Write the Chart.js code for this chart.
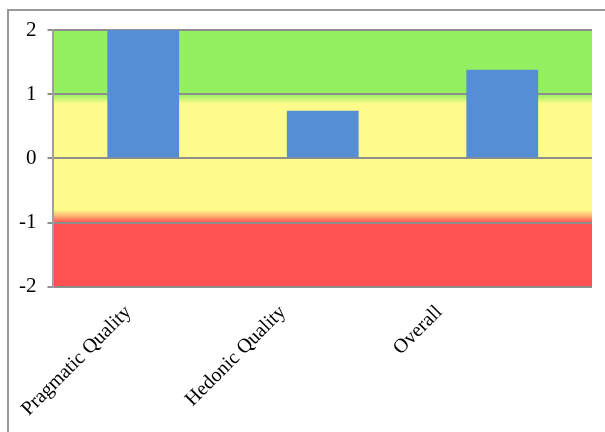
<html>
    <head>
        <title>UEQ scale means</title>
        <script src="https://cdn.jsdelivr.net/npm/chart.js"></script>
        <style>
            body {
                margin: 0;
                background: white;
            }
            #wrap {
                position: relative;
                width: 605px;
                height: 432px;
                overflow: hidden;
            }
            #frame {
                position: absolute;
                left: 7px;
                top: 9px;
                width: 700px;
                height: 500px;
                border-left: 2px solid #9a9a9a;
                border-top: 2px solid #9a9a9a;
            }
            #chart {
                position: absolute;
                left: 0;
                top: 0;
            }
        </style>
    </head>
    <body>
        <div id="wrap">
            <div id="frame"></div>
            <canvas id="chart" width="605" height="432"></canvas>
        </div>
        <script>
            const categories = ['Pragmatic Quality', 'Hedonic Quality', 'Overall'];
            const means = [2.0, 0.74, 1.38];
            const yTicks = [-2, -1, 0, 1, 2];

            // rating bands behind the bars (value ranges)
            const goodFrom = 1.0;      // green above this
            const goodFade = 0.85;     // green fades into yellow down to here
            const badFade = -0.8;      // yellow fades into red from here
            const badFrom = -1.0;      // red below this

            // horizontal nudge of each rotated category label, px
            const labelShift = [-15, -40, -63];

            const bandPlugin = {
                id: 'bands',
                beforeDraw(chart) {
                    const { ctx, chartArea: a, scales: { y } } = chart;
                    const top = y.getPixelForValue(y.max);
                    const bottom = y.getPixelForValue(y.min);
                    const g = ctx.createLinearGradient(0, top, 0, bottom);
                    const stop = v => (y.getPixelForValue(v) - top) / (bottom - top);
                    g.addColorStop(0, '#94f060');
                    g.addColorStop(stop(goodFrom), '#94f060');
                    g.addColorStop(stop(goodFade), '#fffc8c');
                    g.addColorStop(stop(badFade), '#fffc8c');
                    g.addColorStop((stop(badFade) + stop(badFrom)) / 2, '#ffb070');
                    g.addColorStop(stop(badFrom), '#ff5151');
                    g.addColorStop(1, '#ff5151');
                    ctx.save();
                    ctx.fillStyle = g;
                    ctx.fillRect(a.left, top, a.right - a.left, bottom - top);
                    ctx.restore();
                }
            };

            const shiftLabels = {
                id: 'shiftLabels',
                beforeDraw(chart) {
                    const items = chart.scales.x.getLabelItems();
                    items.forEach((item, i) => {
                        item.options.translation[0] += labelShift[i] || 0;
                    });
                }
            };

            const config = {
                type: 'bar',
                data: {
                    labels: categories,
                    datasets: [{
                        data: means,
                        backgroundColor: '#558ed5',
                        borderWidth: 0,
                        barPercentage: 0.4,
                        categoryPercentage: 1.0
                    }]
                },
                options: {
                    responsive: false,
                    animation: false,
                    layout: {
                        padding: { left: 8, right: 13, top: 30, bottom: -3 }
                    },
                    plugins: {
                        legend: { display: false },
                        tooltip: { enabled: false }
                    },
                    scales: {
                        x: {
                            grid: { display: false, drawTicks: false },
                            border: { display: false },
                            ticks: {
                                minRotation: 45,
                                maxRotation: 45,
                                padding: 14,
                                color: '#000',
                                font: { family: 'Liberation Serif', size: 20 }
                            }
                        },
                        y: {
                            min: -2,
                            max: 2,
                            afterBuildTicks(axis) {
                                axis.ticks = yTicks.map(v => ({ value: v }));
                            },
                            grid: {
                                color: '#8e8e8e',
                                lineWidth: 2,
                                tickLength: 6
                            },
                            border: { color: '#a0a0a0', width: 2 },
                            ticks: {
                                padding: 11,
                                color: '#000',
                                font: { family: 'Liberation Serif', size: 21 }
                            }
                        }
                    }
                },
                plugins: [bandPlugin, shiftLabels]
            };

            new Chart(document.getElementById('chart'), config);
        </script>
    </body>
</html>
